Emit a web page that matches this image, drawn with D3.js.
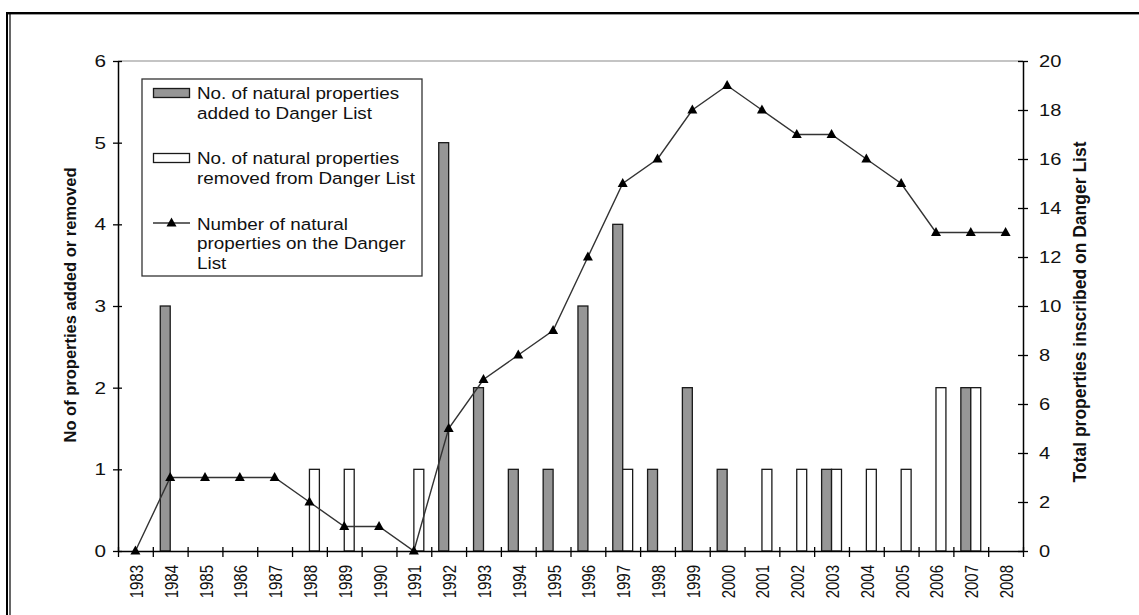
<!DOCTYPE html>
<html>
<head>
<meta charset="utf-8">
<script src="https://cdn.jsdelivr.net/npm/d3@7/dist/d3.min.js"></script>
<style>
  html, body { margin: 0; padding: 0; background: #fff; }
  svg { display: block; }
  text { font-family: "Liberation Sans", Arial, sans-serif; fill: #111; }
</style>
</head>
<body>
<svg id="chart" width="1139" height="615"></svg>
<script>
// Natural World Heritage properties and the List of World Heritage in Danger, 1983-2008
const years = ["1983","1984","1985","1986","1987","1988","1989","1990","1991","1992","1993","1994","1995",
               "1996","1997","1998","1999","2000","2001","2002","2003","2004","2005","2006","2007","2008"];
const addedToList   = [0,3,0,0,0,0,0,0,0,5,2,1,1,3,4,1,2,1,0,0,1,0,0,0,2,0];
const removedFromList = [0,0,0,0,0,1,1,0,1,0,0,0,0,0,1,0,0,0,1,1,1,1,1,2,2,0];
const totalOnList   = [0,3,3,3,3,2,1,1,0,5,7,8,9,12,15,16,18,19,18,17,17,16,15,13,13,13];
const leftTicks  = [0,1,2,3,4,5,6];
const rightTicks = [0,2,4,6,8,10,12,14,16,18,20];
const legendAdded   = ["No. of natural properties", "added to Danger List"];
const legendRemoved = ["No. of natural properties", "removed from Danger List"];
const legendTotal   = ["Number of natural", "properties on the Danger", "List"];
const leftTitle  = "No of properties added or removed";
const rightTitle = "Total properties inscribed on Danger List";

const svg = d3.select("#chart");
const W = 1139, H = 615;
const plot = { left: 118, right: 1023, top: 61, bottom: 551 };

svg.append("rect").attr("width", W).attr("height", H).attr("fill", "#fff");

// frame around the figure
svg.append("line").attr("x1", 6).attr("x2", W).attr("y1", 13).attr("y2", 13)
  .attr("stroke", "#000").attr("stroke-width", 2);
svg.append("line").attr("x1", 6).attr("x2", W).attr("y1", 14.5).attr("y2", 14.5)
  .attr("stroke", "#999").attr("stroke-width", 1);
svg.append("line").attr("x1", 7).attr("x2", 7).attr("y1", 12).attr("y2", H)
  .attr("stroke", "#000").attr("stroke-width", 2);
svg.append("line").attr("x1", 10).attr("x2", 10).attr("y1", 14).attr("y2", H)
  .attr("stroke", "#000").attr("stroke-width", 1.2);

// scales
const x = d3.scaleBand().domain(years).range([plot.left, plot.right]).paddingInner(0).paddingOuter(0);
const series = ["added", "removed"];
const xs = d3.scaleBand().domain(series).range([0, x.bandwidth()]).paddingInner(0).paddingOuter(0.75);
const yL = d3.scaleLinear().domain([0, 6]).range([plot.bottom, plot.top]);
const yR = d3.scaleLinear().domain([0, 20]).range([plot.bottom, plot.top]);

// plot area top edge
svg.append("line").attr("x1", plot.left).attr("x2", plot.right)
  .attr("y1", plot.top).attr("y2", plot.top).attr("stroke", "#8a8a8a").attr("stroke-width", 1.2);

// bars
const barData = [];
years.forEach((yr, i) => {
  if (addedToList[i] > 0) barData.push({ yr, key: "added", v: addedToList[i] });
  if (removedFromList[i] > 0) barData.push({ yr, key: "removed", v: removedFromList[i] });
});
svg.append("g").selectAll("rect").data(barData).join("rect")
  .attr("x", d => x(d.yr) + xs(d.key))
  .attr("y", d => yL(d.v))
  .attr("width", xs.bandwidth())
  .attr("height", d => yL(0) - yL(d.v))
  .attr("fill", d => d.key === "added" ? "#969696" : "#ffffff")
  .attr("stroke", "#1a1a1a").attr("stroke-width", 1.3);

// total line with triangle markers
const pts = years.map((yr, i) => ({ yr, v: totalOnList[i] }));
const line = d3.line().x(d => x(d.yr) + x.bandwidth() / 2).y(d => yR(d.v));
svg.append("path").datum(pts).attr("d", line)
  .attr("fill", "none").attr("stroke", "#333").attr("stroke-width", 1.4);
const tri = "M0,-5.5L5,3.5L-5,3.5Z";
svg.append("g").selectAll("path").data(pts).join("path")
  .attr("transform", d => `translate(${x(d.yr) + x.bandwidth() / 2},${yR(d.v)})`)
  .attr("d", tri).attr("fill", "#000");

// left axis
const gL = svg.append("g").attr("transform", `translate(${plot.left},0)`)
  .call(d3.axisLeft(yL).tickValues(leftTicks).tickFormat(d3.format("d")).tickSize(5).tickSizeOuter(0));
gL.select(".domain").attr("stroke", "#000").attr("stroke-width", 1.5);
gL.selectAll(".tick line").attr("x1", 4).attr("stroke", "#000").attr("stroke-width", 1.3);
gL.selectAll(".tick text").attr("x", null)
  .attr("transform", "translate(-12,0) scale(1.22,1)")
  .style("font-size", "17px").attr("fill", "#111");

// right axis
const gR = svg.append("g").attr("transform", `translate(${plot.right},0)`)
  .call(d3.axisRight(yR).tickValues(rightTicks).tickFormat(d3.format("d")).tickSize(5).tickSizeOuter(0));
gR.select(".domain").attr("stroke", "#000").attr("stroke-width", 1.5);
gR.selectAll(".tick line").attr("x1", -5).attr("stroke", "#000").attr("stroke-width", 1.3);
gR.selectAll(".tick text").attr("x", null)
  .attr("transform", "translate(16,0) scale(1.18,1)")
  .style("font-size", "17px").attr("fill", "#111");

// bottom axis: tick marks on the category boundaries
const xEdge = d3.scaleLinear().domain([0, years.length]).range([plot.left, plot.right]);
const gB = svg.append("g").attr("transform", `translate(0,${plot.bottom})`)
  .call(d3.axisBottom(xEdge).tickValues(d3.range(0, years.length + 1)).tickFormat("").tickSize(6).tickSizeOuter(0));
gB.select(".domain").attr("stroke", "#000").attr("stroke-width", 1.5);
gB.selectAll(".tick line").attr("y1", -4).attr("stroke", "#000").attr("stroke-width", 1.3);

// year labels, rotated
svg.append("g").selectAll("text").data(years).join("text")
  .attr("transform", d => `translate(${x(d) + x.bandwidth() / 2 + 7.5},565) rotate(-90) scale(1,1.2)`)
  .attr("text-anchor", "end")
  .style("font-size", "15px")
  .text(d => d);

// axis titles
svg.append("text")
  .attr("transform", `translate(75.5,305) rotate(-90)`)
  .attr("text-anchor", "middle").style("font-size", "16.5px").style("font-weight", "bold")
  .text(leftTitle);
svg.append("text")
  .attr("transform", `translate(1085.5,312) rotate(-90)`)
  .attr("text-anchor", "middle").style("font-size", "17.5px").style("font-weight", "bold")
  .text(rightTitle);

// legend
const lg = svg.append("g");
lg.append("rect").attr("x", 142).attr("y", 79).attr("width", 280).attr("height", 197)
  .attr("fill", "#fff").attr("stroke", "#333").attr("stroke-width", 1.3);
lg.append("rect").attr("x", 153.5).attr("y", 88.5).attr("width", 36).attr("height", 9)
  .attr("fill", "#969696").attr("stroke", "#1a1a1a").attr("stroke-width", 1.3);
lg.append("rect").attr("x", 153.5).attr("y", 153.5).attr("width", 36).attr("height", 9)
  .attr("fill", "#fff").attr("stroke", "#1a1a1a").attr("stroke-width", 1.3);
lg.append("line").attr("x1", 153).attr("x2", 190).attr("y1", 223).attr("y2", 223)
  .attr("stroke", "#333").attr("stroke-width", 1.4);
lg.append("path").attr("transform", "translate(171.5,223)").attr("d", tri).attr("fill", "#000");

function legendLines(lines, baseY) {
  lines.forEach((t, i) => {
    lg.append("text")
      .attr("transform", `translate(197,${baseY + i * 19.5}) scale(1.11,1)`)
      .style("font-size", "17px")
      .text(t);
  });
}
legendLines(legendAdded, 99);
legendLines(legendRemoved, 164);
legendLines(legendTotal, 229.5);
</script>
</body>
</html>
